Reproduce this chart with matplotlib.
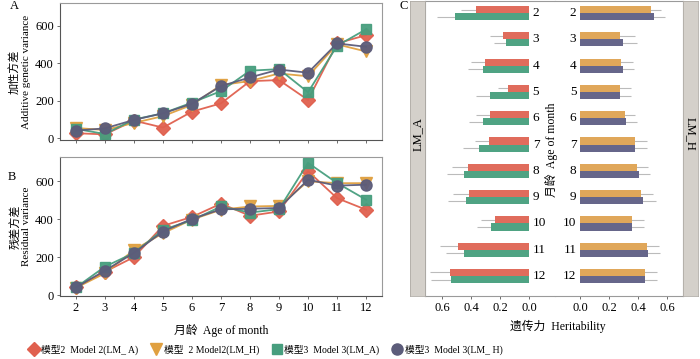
import numpy as np
import matplotlib
matplotlib.use("Agg")
import matplotlib.pyplot as plt
from matplotlib.lines import Line2D

plt.rcParams['font.family'] = ['Liberation Serif', 'Noto Sans CJK SC']
plt.rcParams['font.size'] = 8

# ---- data ----
ages = [2, 3, 4, 5, 6, 7, 8, 9, 10, 11, 12]

# panel A: additive genetic variance
add_m2_a = [27, 21, 94, 57, 142, 186, 304, 310, 204, 505, 549]
add_m2_h = [55, 44, 82, 118, 178, 283, 305, 345, 330, 500, 462]
add_m3_a = [50, 23, 100, 133, 190, 251, 360, 368, 245, 492, 580]
add_m3_h = [41, 53, 98, 133, 184, 278, 324, 366, 349, 505, 487]

# panel B: residual variance
res_m2_a = [40, 123, 200, 365, 412, 482, 418, 441, 653, 511, 450]
res_m2_h = [38, 115, 238, 326, 398, 450, 467, 470, 600, 590, 590]
res_m3_a = [40, 150, 222, 344, 395, 467, 435, 453, 697, 591, 503]
res_m3_h = [40, 129, 222, 335, 402, 452, 455, 459, 608, 577, 582]

# panel C: heritability and standard errors
h2_m2_a = [0.366, 0.177, 0.306, 0.147, 0.267, 0.278, 0.418, 0.411, 0.237, 0.487, 0.547]
se_m2_a = [0.10, 0.09, 0.094, 0.07, 0.097, 0.092, 0.115, 0.11, 0.094, 0.126, 0.136]
h2_m3_a = [0.508, 0.159, 0.32, 0.267, 0.317, 0.347, 0.448, 0.437, 0.26, 0.448, 0.536]
se_m3_a = [0.124, 0.08, 0.10, 0.10, 0.10, 0.106, 0.115, 0.124, 0.10, 0.124, 0.14]
h2_m2_h = [0.49, 0.277, 0.286, 0.277, 0.307, 0.379, 0.395, 0.418, 0.358, 0.46, 0.45]
se_m2_h = [0.07, 0.10, 0.077, 0.074, 0.074, 0.083, 0.076, 0.085, 0.083, 0.083, 0.083]
h2_m3_h = [0.508, 0.296, 0.296, 0.277, 0.316, 0.379, 0.409, 0.436, 0.358, 0.469, 0.45]
se_m3_h = [0.076, 0.10, 0.076, 0.074, 0.079, 0.083, 0.071, 0.085, 0.083, 0.083, 0.083]

legend_labels = ['模型2  Model 2(LM_ A)', '模型  2 Model2(LM_H)',
                 '模型3  Model 3(LM_A)', '模型3  Model 3(LM_ H)']

# ---- styles ----
c_red, c_orange, c_green, c_purple = '#E0604E', '#E0A040', '#479E7E', '#5C5C7A'
bar_red, bar_orange, bar_green, bar_purple = '#E06C5C', '#E0A75A', '#4FA383', '#66668A'
spine_col = '#9a9a9a'
W, H = 700, 359

fig = plt.figure(figsize=(7, 3.59), dpi=100)


def px_axes(x0, y0, x1, y1):
    return fig.add_axes([x0 / W, 1 - y1 / H, (x1 - x0) / W, (y1 - y0) / H])


def style_line_axes(ax):
    for s in ax.spines.values():
        s.set_color(spine_col)
        s.set_linewidth(0.8)
    ax.spines['left'].set_color('#555555')
    ax.spines['bottom'].set_color('#555555')
    ax.tick_params(length=2.5, width=0.6, color='#555555', labelsize=9, pad=2)
    ax.set_xlim(1.45, 12.55)
    ax.set_xticks(ages)
    ax.set_yticks([0, 200, 400, 600])


series_styles = [
    (c_red, 'D', 7.5),
    (c_orange, 'v', 8.5),
    (c_green, 's', 7.5),
    (c_purple, 'o', 8),
]

axA = px_axes(60, 3, 382, 140)
for vals, (col, mk, ms) in zip([add_m2_a, add_m2_h, add_m3_a, add_m3_h], series_styles):
    axA.plot(ages, vals, color=col, marker=mk, ms=ms, lw=1.3, alpha=0.95)
style_line_axes(axA)
axA.set_ylim(-9, 720)
axA.set_xticklabels([])
axA.set_ylabel('加性方差\nAdditive genetic variance', fontsize=8, labelpad=3, linespacing=1.15)

axB = px_axes(60, 157, 382, 296)
for vals, (col, mk, ms) in zip([res_m2_a, res_m2_h, res_m3_a, res_m3_h], series_styles):
    axB.plot(ages, vals, color=col, marker=mk, ms=ms, lw=1.3, alpha=0.95)
style_line_axes(axB)
axB.set_ylim(-5, 728)
axB.set_ylabel('残差方差\nResidual variance', fontsize=8, labelpad=3, linespacing=1.15)
axB.set_xlabel('月龄  Age of month', fontsize=8.5, labelpad=7)

fig.text(14 / W, 1 - 6 / H, 'A', fontsize=9, ha='center', va='center')
fig.text(12 / W, 1 - 177 / H, 'B', fontsize=9, ha='center', va='center')
fig.text(404 / W, 1 - 6 / H, 'C', fontsize=9, ha='center', va='center')

# ---- panel C ----
ypos = np.arange(len(ages))
bh = 0.27
err_kw = dict(ecolor='#bbbbbb', elinewidth=0.8, capsize=0, zorder=1)

axL = px_axes(425, 1, 555, 296)
axL.barh(ypos - bh / 2, h2_m2_a, height=bh, color=bar_red, xerr=se_m2_a, error_kw=err_kw, zorder=2)
axL.barh(ypos + bh / 2, h2_m3_a, height=bh, color=bar_green, xerr=se_m3_a, error_kw=err_kw, zorder=2)
axL.set_xlim(0.717, -0.179)

axR = px_axes(555, 1, 683, 296)
axR.barh(ypos - bh / 2, h2_m2_h, height=bh, color=bar_orange, xerr=se_m2_h, error_kw=err_kw, zorder=2)
axR.barh(ypos + bh / 2, h2_m3_h, height=bh, color=bar_purple, xerr=se_m3_h, error_kw=err_kw, zorder=2)
axR.set_xlim(-0.172, 0.710)

for ax in (axL, axR):
    ax.set_ylim(10.76, -0.46)
    ax.set_yticks([])
    ax.set_xticks([0, 0.2, 0.4, 0.6])
    ax.set_xticklabels(['0.0', '0.2', '0.4', '0.6'])
    ax.tick_params(axis='x', length=2.5, width=0.6, color='#555555', labelsize=9, pad=2)
    for s in ax.spines.values():
        s.set_color(spine_col)
        s.set_linewidth(0.8)
axL.spines['right'].set_visible(False)
axR.spines['left'].set_visible(False)

for i, a in enumerate(ages):
    axL.text(-0.025, i, str(a), ha='left', va='center', fontsize=9.5)
    axR.text(-0.025, i, str(a), ha='right', va='center', fontsize=9.5)

fig.text(552 / W, 1 - 150 / H, '月龄  Age of month', rotation=90, fontsize=8.5,
         ha='center', va='center')
fig.text(558 / W, 1 - 326 / H, '遗传力  Heritability', fontsize=8.5, ha='center', va='center')

# facet strips
for x0, x1, lab, rot in [(410, 425, 'LM_A', 90), (683, 698, 'LM_H', -90)]:
    sax = px_axes(x0, 1, x1, 296)
    sax.set_facecolor('#d4d0ca')
    sax.set_xticks([])
    sax.set_yticks([])
    for s in sax.spines.values():
        s.set_color('#b0aca6')
        s.set_linewidth(0.6)
    sax.text(0.5, 0.55, lab, rotation=rot, ha='center', va='center', fontsize=9,
             transform=sax.transAxes)

# ---- legend ----
handles = [Line2D([], [], color=col, marker=mk, ms=ms, ls='none')
           for col, mk, ms in series_styles]
fig.legend(handles, legend_labels, loc='center', bbox_to_anchor=(265 / W, 1 - 350 / H),
           ncol=4, frameon=False, fontsize=7, handletextpad=0.1, columnspacing=1.2,
           borderpad=0, handlelength=1.3)

fig.savefig('out.png', dpi=100)
